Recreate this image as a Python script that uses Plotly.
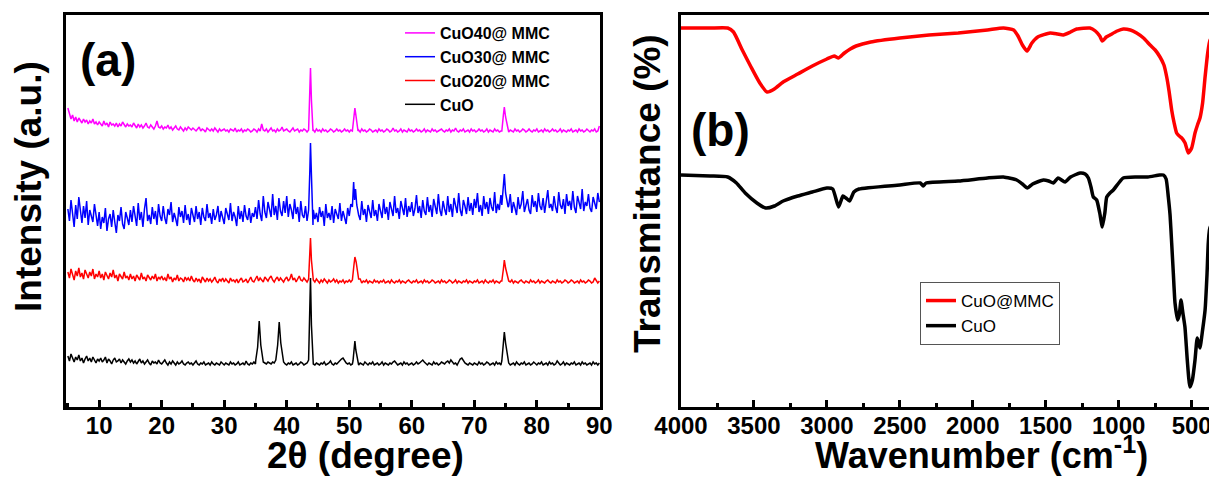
import numpy as np
import plotly.graph_objects as go

F = "Liberation Sans, Arial, sans-serif"

# ---------------- XRD (panel a) ----------------
two_theta = np.arange(5.0, 90.001, 0.25)

cuo_base = [
    49, 44, 51, 46, 43, 48, 45, 50, 44, 47, 42, 46, 49, 44, 47, 43, 48, 45, 42, 46,
    44, 47, 43, 45, 48, 42, 46, 44, 41, 45, 47, 43, 44, 46, 42, 45, 43, 41, 44, 46,
    43, 45, 42, 44, 41, 43, 46, 42, 44, 41, 43, 45, 42, 40, 44, 42, 43, 41, 45, 42,
    41, 43, 45, 42, 40, 43, 41, 44, 42, 40, 43, 41, 42, 44, 41, 40, 42, 43, 41, 42,
    40, 42, 44, 41, 40, 42, 41, 43, 40, 41, 42, 40, 43, 41, 40, 42, 41, 40, 43, 41,
    40, 42, 41, 40, 43, 41, 42, 40, 41, 43, 40, 41, 42, 40, 44, 41, 40, 42, 41, 43,
    41, 42, 43, 45, 44, 43, 42, 41, 43, 42, 41, 43, 42, 44, 43, 42, 41, 42, 43, 41,
    40, 42, 41, 43, 40, 41, 42, 40, 41, 43, 42, 40, 41, 42, 40, 41, 43, 41, 40, 42,
    41, 40, 42, 41, 43, 40, 41, 42, 44, 41, 40, 42, 41, 43, 44, 46, 47, 44, 42, 41,
    42, 40, 41, 43, 42, 41, 40, 42, 41, 40, 43, 41, 40, 42, 41, 43, 40, 41, 42, 40,
    41, 43, 40, 42, 41, 40, 42, 41, 43, 44, 42, 40, 41, 42, 40, 43, 41, 42, 40, 41,
    42, 40, 41, 43, 41, 42, 44, 45, 43, 41, 40, 42, 41, 40, 43, 41, 42, 40, 41, 43,
    42, 41, 43, 44, 42, 45, 43, 41, 42, 40, 43, 46, 47, 44, 42, 41, 40, 42, 41, 40,
    42, 41, 40, 43, 41, 42, 40, 41, 43, 42, 40, 41, 42, 40, 43, 41, 42, 40, 41, 42,
    41, 43, 42, 40, 41, 42, 40, 43, 41, 40, 42, 41, 43, 40, 41, 42, 40, 41, 43, 41,
    40, 42, 41, 43, 40, 41, 42, 40, 43, 41, 42, 40, 41, 44, 42, 40, 41, 43, 40, 42,
    41, 40, 42, 41, 43, 40, 41, 42, 40, 43, 41, 42, 40, 41, 42, 40, 43, 41, 42, 40,
    42]
cuo_peaks = [
    [(35.05, 45), (35.35, 58), (35.6, 84), (35.85, 60), (36.2, 45)],
    [(38.25, 45), (38.55, 60), (38.8, 83), (39.05, 62), (39.45, 45)],
    [(43.5, 45), (43.7, 90), (43.8, 127), (43.95, 80), (44.2, 44)],
    [(50.6, 44), (50.8, 58), (50.9, 64), (51.05, 55), (51.4, 43)],
    [(74.4, 44), (74.65, 62), (74.8, 73), (75.0, 62), (75.4, 45)],
]

cuo20_base = [
    133, 127, 136, 130, 125, 134, 129, 137, 128, 132, 126, 135, 130, 127, 133, 129, 136, 126, 131, 128,
    134, 127, 131, 125, 133, 129, 126, 132, 128, 135, 127, 130, 124, 131, 128, 126, 133, 127, 129, 125,
    131, 126, 129, 124, 130, 127, 125, 132, 126, 128, 124, 130, 127, 125, 129, 126, 131, 124, 128, 126,
    129, 125, 127, 124, 131, 126, 128, 123, 127, 125, 130, 124, 127, 126, 123, 128, 125, 127, 124, 129,
    125, 123, 127, 124, 126, 122, 128, 125, 123, 127, 124, 126, 123, 125, 128, 124, 122, 126, 124, 127,
    123, 126, 124, 122, 127, 124, 125, 123, 126, 122, 125, 127, 123, 124, 126, 122, 125, 128, 124, 123,
    126, 129, 124, 127, 125, 123, 128, 126, 124, 127, 129, 125, 123, 126, 128, 124, 127, 125, 123, 126,
    128, 124, 126, 131, 125, 127, 123, 126, 129, 125, 124, 127, 125, 123, 126, 124, 127, 125, 123, 126,
    124, 122, 125, 123, 126, 124, 122, 125, 123, 124, 126, 123, 125, 122, 124, 123, 125, 122, 124, 123,
    125, 123, 124, 122, 125, 123, 124, 126, 122, 124, 123, 125, 122, 124, 123, 122, 125, 123, 124, 122,
    124, 123, 125, 122, 123, 124, 122, 125, 123, 122, 124, 123, 125, 122, 124, 123, 122, 124, 125, 123,
    122, 124, 123, 125, 122, 123, 124, 122, 125, 123, 124, 122, 123, 125, 124, 122, 123, 124, 122, 125,
    123, 124, 122, 123, 125, 124, 122, 123, 125, 122, 124, 123, 122, 124, 123, 125, 122, 124, 123, 122,
    124, 123, 125, 122, 123, 124, 122, 125, 123, 122, 124, 123, 125, 122, 124, 123, 122, 124, 123, 125,
    123, 122, 124, 123, 125, 122, 124, 123, 122, 124, 125, 123, 122, 124, 123, 122, 125, 123, 124, 122,
    123, 125, 122, 124, 123, 122, 124, 125, 123, 122, 124, 123, 122, 125, 123, 124, 122, 123, 125, 124,
    122, 123, 125, 124, 122, 123, 124, 122, 125, 123, 124, 122, 123, 125, 124, 122, 123, 127, 124, 122,
    124]
cuo20_peaks = [
    [(43.5, 126), (43.7, 150), (43.8, 167), (43.95, 145), (44.2, 126)],
    [(50.5, 125), (50.75, 140), (50.9, 148), (51.1, 143), (51.5, 126)],
    [(74.4, 124), (74.65, 136), (74.8, 145), (75.0, 137), (75.4, 124)],
]

cuo30_base = [
    196, 184, 205, 189, 178, 200, 186, 208, 191, 182, 199, 187, 204, 180, 195, 188, 183, 201, 190, 179,
    193, 176, 188, 182, 197, 174, 186, 191, 178, 195, 183, 172, 190, 184, 198, 181, 176, 193, 187, 180,
    195, 183, 199, 188, 179, 202, 185, 193, 178, 196, 207, 184, 190, 181, 198, 186, 194, 180, 201, 189,
    184, 199, 187, 181, 196, 190, 203, 183, 192, 186, 179, 198, 188, 194, 182, 200, 185, 191, 180, 197,
    189, 183, 199, 186, 193, 180, 197, 188, 184, 201, 187, 192, 181, 196, 185, 190, 199, 183, 194, 187,
    181, 197, 190, 185, 202, 184, 193, 188, 179, 199, 186, 194, 183, 200, 189, 185, 197, 182, 192, 188,
    198, 186, 205, 191, 184, 209, 193, 187, 203, 196, 188, 211, 190, 199, 185, 207, 194, 189, 204, 192,
    209, 188, 201, 195, 186, 206, 191, 198, 183, 204, 190, 187, 199, 184, 196, 189, 180, 195, 186, 192,
    183, 198, 188, 194, 179, 201, 187, 192, 185, 199, 182, 196, 190, 186, 202, 184, 194, 188, 181, 197,
    189, 201, 187, 194, 186, 199, 191, 185, 204, 190, 196, 183, 200, 192, 187, 205, 189, 195, 184, 201,
    193, 187, 206, 191, 198, 185, 203, 194, 189, 209, 192, 197, 186, 204, 195, 190, 207, 188, 199, 193,
    203, 189, 196, 210, 192, 199, 187, 205, 194, 190, 208, 193, 200, 188, 206, 197, 191, 211, 195, 189,
    204, 196, 190, 209, 193, 201, 188, 207, 198, 192, 212, 195, 189, 205, 199, 191, 208, 194, 202, 190,
    206, 197, 212, 193, 200, 189, 209, 196, 203, 191, 207, 198, 194, 213, 192, 201, 195, 210, 197, 193,
    205, 194, 199, 211, 192, 203, 197, 190, 208, 196, 201, 214, 193, 199, 206, 195, 191, 210, 198, 204,
    193, 212, 199, 195, 207, 192, 203, 215, 197, 201, 194, 209, 198, 192, 213, 200, 196, 206, 191, 211,
    199, 204, 195, 214, 198, 192, 209, 201, 196, 216, 194, 203, 199, 211, 197, 193, 208, 202, 196, 212,
    203]
cuo30_peaks = [
    [(43.5, 195), (43.7, 235), (43.8, 262), (43.95, 230), (44.2, 180)],
    [(50.5, 198), (50.7, 223), (50.85, 205), (51.0, 216), (51.2, 200), (51.5, 190)],
    [(74.4, 200), (74.65, 215), (74.8, 231), (75.0, 212), (75.4, 198)],
]

cuo40_base = [
    297, 292, 286, 290, 284, 288, 283, 287, 285, 282, 286, 283, 285, 281, 284, 282, 286, 281, 283, 280,
    283, 281, 279, 284, 280, 282, 278, 283, 280, 281, 279, 282, 278, 281, 279, 283, 280, 278, 281, 279,
    280, 278, 282, 279, 277, 281, 278, 280, 277, 279, 282, 278, 277, 280, 278, 276, 279, 284, 278, 277,
    279, 276, 278, 277, 280, 276, 278, 275, 277, 279, 276, 275, 278, 276, 274, 277, 275, 278, 276, 275,
    277, 275, 274, 276, 278, 274, 276, 275, 273, 277, 275, 274, 276, 274, 277, 275, 273, 276, 274, 275,
    276, 274, 275, 273, 276, 275, 274, 277, 273, 275, 274, 276, 273, 275, 274, 276, 275, 273, 274, 276,
    275, 273, 276, 274, 281, 275, 274, 276, 273, 275, 277, 274, 275, 273, 276, 274, 275, 278, 274, 275,
    276, 274, 273, 275, 277, 274, 275, 276, 273, 275, 274, 276, 275, 273, 274, 276, 274, 275, 273, 276,
    274, 275, 273, 276, 274, 275, 273, 274, 276, 275, 273, 274, 276, 274, 275, 273, 274, 276, 274, 275,
    273, 275, 274, 276, 273, 274, 275, 273, 276, 274, 275, 273, 274, 276, 275, 273, 274, 275, 273, 276,
    274, 275, 273, 274, 276, 275, 273, 274, 277, 274, 275, 273, 274, 276, 273, 275, 274, 273, 276, 274,
    275, 273, 274, 276, 274, 275, 273, 274, 276, 273, 275, 274, 273, 276, 274, 275, 273, 274, 275, 276,
    274, 273, 275, 274, 276, 273, 275, 274, 277, 274, 273, 275, 274, 276, 273, 274, 275, 273, 276, 274,
    275, 273, 274, 276, 274, 275, 273, 274, 276, 273, 275, 274, 273, 276, 274, 275, 273, 274, 275, 273,
    274, 276, 273, 275, 274, 273, 276, 274, 275, 273, 274, 276, 275, 273, 274, 276, 274, 273, 275, 274,
    276, 273, 274, 275, 273, 276, 274, 275, 273, 274, 276, 274, 275, 273, 274, 276, 273, 275, 274, 273,
    275, 274, 276, 273, 274, 275, 273, 276, 274, 275, 273, 274, 276, 274, 273, 275, 274, 276, 273, 274,
    279]
cuo40_peaks = [
    [(43.5, 275), (43.7, 310), (43.8, 337), (43.95, 305), (44.2, 274)],
    [(50.5, 274), (50.75, 290), (50.9, 297), (51.1, 288), (51.4, 274)],
    [(74.4, 274), (74.65, 290), (74.8, 298), (75.0, 288), (75.4, 275)],
]

xrd_names = ["CuO", "CuO20@ MMC", "CuO30@ MMC", "CuO40@ MMC"]
xrd_colors = ["#000000", "#FF0000", "#0000FF", "#FF00FF"]

# ---------------- FTIR (panel b) ----------------
wn_mmc = [4000, 3800, 3680, 3640, 3580, 3520, 3460, 3410, 3360, 3300, 3200, 3100,
          3000, 2950, 2920, 2880, 2840, 2800, 2700, 2500, 2300, 2100, 1900, 1790,
          1720, 1690, 1660, 1628, 1595, 1555, 1470, 1420, 1380, 1330, 1288, 1197,
          1160, 1130, 1112, 1085, 1060, 1010, 969, 920, 877, 830, 785, 750, 717,
          690, 671, 655, 637, 620, 603, 585, 568, 545, 523, 500, 477, 460, 443,
          425, 408, 390, 374, 360, 340]
t_mmc = [377, 377, 377, 373, 355, 338, 322, 313, 316, 323, 331, 339,
         346, 349, 347, 352, 356, 359, 363, 367, 370, 372, 375, 377,
         375, 369, 360, 354, 362, 368, 372, 371, 370, 373, 376, 377,
         374, 369, 364, 368, 370, 374, 376, 375, 372, 367, 360, 355, 348,
         340, 328, 314, 295, 282, 272, 269, 267, 262, 252, 257, 272, 280, 287,
         302, 328, 352, 365, 366, 366]

wn_cuo = [4000, 3800, 3680, 3620, 3560, 3480, 3420, 3360, 3300, 3200, 3100, 3000,
          2960, 2920, 2890, 2870, 2845, 2815, 2780, 2500, 2360, 2340, 2320, 2100,
          1900, 1790, 1699, 1660, 1626, 1590, 1517, 1480, 1448, 1416, 1368, 1330,
          1265, 1230, 1208, 1190, 1174, 1151, 1130, 1112, 1095, 1082, 1060, 1037,
          1000, 969, 880, 800, 720, 694, 675, 660, 648, 637, 625, 614, 596, 585,
          573, 560, 546, 530, 512, 495, 477, 462, 452, 443, 425, 408, 395, 386,
          374, 352]
t_cuo = [230, 229, 228, 222, 212, 202, 197, 199, 204, 209, 213, 217,
         216, 198, 209, 207, 204, 213, 216, 220, 222, 219, 222, 224,
         227, 228, 225, 221, 217, 221, 225, 224, 222, 227, 223, 228,
         232, 231, 227, 218, 208, 205, 192, 178, 192, 208, 212, 215,
         222, 227, 228, 228, 230, 230, 226, 208, 190, 162, 130, 102, 85, 90,
         105, 92, 78, 45, 18, 25, 45, 67, 62, 57, 75, 95, 130, 162,
         178, 178]

ftir_names = ["CuO@MMC", "CuO"]
ftir_colors = ["#FF0000", "#000000"]


def merge(base, peaks):
    pts = [(float(x), y) for x, y in zip(two_theta, base)
           if not any(c[0][0] <= x <= c[-1][0] for c in peaks)]
    pts += [p for c in peaks for p in c]
    pts.sort()
    return [p[0] for p in pts], [p[1] for p in pts]


# page is drawn with an 8 px body margin: map reference pixels to paper fractions
W, H, OFF = 1209, 470, 8


def px(x):
    return (x - OFF) / W


def py(y):
    return 1 - (y - OFF) / H


fig = go.Figure()

for base, peaks, name, col in zip(
        [cuo_base, cuo20_base, cuo30_base, cuo40_base],
        [cuo_peaks, cuo20_peaks, cuo30_peaks, cuo40_peaks],
        xrd_names, xrd_colors):
    assert len(base) == len(two_theta), (name, len(base))
    xs, ys = merge(base, peaks)
    fig.add_trace(go.Scatter(x=xs, y=ys, mode="lines", name=name,
                             line=dict(color=col, width=1.5),
                             xaxis="x", yaxis="y", legend="legend"))

for wn, t, name, col in zip([wn_mmc, wn_cuo], [t_mmc, t_cuo], ftir_names, ftir_colors):
    fig.add_trace(go.Scatter(x=wn, y=t, mode="lines", name=name,
                             line=dict(color=col, width=3.5, shape="spline", smoothing=0.5),
                             xaxis="x2", yaxis="y2", legend="legend2"))

ydom = [py(407), py(15)]
tickfont = dict(family=F, size=24, color="black", weight="bold")
common_x = dict(ticks="inside", ticklen=7, tickwidth=3, tickcolor="black",
                showline=True, linewidth=3, linecolor="black", mirror=True,
                showgrid=False, zeroline=False, tickfont=tickfont, automargin=False,
                ticklabelstandoff=-5)
common_y = dict(showticklabels=False, ticks="", showline=True, linewidth=3,
                linecolor="black", mirror=True, showgrid=False, zeroline=False,
                range=[-2, 390], domain=ydom, automargin=False)

fig.update_layout(
    width=W, height=H,
    margin=dict(l=0, r=0, t=0, b=0),
    paper_bgcolor="white", plot_bgcolor="white",
    font=dict(family=F, color="black"),
    xaxis=dict(domain=[px(66), px(600)], range=[4.7, 90.1], dtick=10, tick0=10,
               minor=dict(dtick=5, tick0=5, ticks="inside", ticklen=4, tickwidth=3,
                          tickcolor="black"),
               anchor="y", **common_x),
    yaxis=dict(anchor="x", **common_y),
    xaxis2=dict(domain=[px(681), px(1215)], range=[4000, 340], dtick=500, tick0=500,
                minor=dict(dtick=250, tick0=250, ticks="inside", ticklen=4, tickwidth=3,
                           tickcolor="black"),
                anchor="y2", **common_x),
    yaxis2=dict(anchor="x2", **common_y),
    legend=dict(x=px(400), y=py(16), xanchor="left", yanchor="top",
                traceorder="reversed", bgcolor="rgba(0,0,0,0)", borderwidth=0,
                font=dict(family=F, size=16, color="black", weight="bold"),
                tracegroupgap=0, itemwidth=30),
    legend2=dict(x=px(920), y=py(282), xanchor="left", yanchor="top",
                 bgcolor="white", bordercolor="#555555", borderwidth=1,
                 font=dict(family=F, size=17, color="black"),
                 tracegroupgap=0, itemwidth=30),
    showlegend=True,
)

ann_font = dict(family=F, color="black")
annotations = [
    dict(text="<b>(a)</b>", x=px(108), y=py(60), font=dict(size=46, **ann_font)),
    dict(text="<b>(b)</b>", x=px(720), y=py(130), font=dict(size=46, **ann_font)),
    dict(text="<b>Intensity (a.u.)</b>", x=px(28), y=py(187), textangle=-90,
         font=dict(size=37, **ann_font)),
    dict(text="<b>Transmittance (%)</b>", x=px(647), y=py(194), textangle=-90,
         font=dict(size=37, **ann_font)),
    dict(text="<b>2θ (degree)</b>", x=px(365), y=py(455),
         font=dict(size=37, **ann_font)),
    dict(text="<b>Wavenumber (cm<sup>-1</sup>)</b>", x=px(981), y=py(453),
         font=dict(size=36, **ann_font)),
]
for a in annotations:
    fig.add_annotation(xref="paper", yref="paper", showarrow=False,
                       xanchor="center", yanchor="middle", **a)

fig.write_html("out.html")
